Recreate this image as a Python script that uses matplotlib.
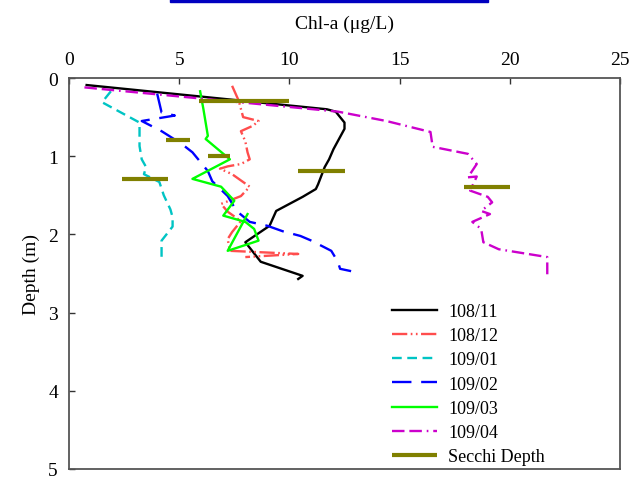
import matplotlib
matplotlib.use("Agg")
import matplotlib.pyplot as plt
from matplotlib.patches import Rectangle

plt.rcParams['font.family'] = ['Liberation Serif', 'DejaVu Serif']
plt.rcParams['lines.scale_dashes'] = False

# Chl-a profiles (x = Chl-a ug/L, d = depth m)
x_10811 = [0.8, 11.7, 12.1, 12.5, 12.5, 12.0, 11.8, 11.6, 11.3, 11.2, 10.6, 9.4, 9.1, 8.0, 8.7, 10.6, 10.4]
d_10811 = [0.09, 0.40, 0.43, 0.57, 0.65, 0.91, 1.04, 1.14, 1.36, 1.42, 1.52, 1.70, 1.89, 2.10, 2.35, 2.53, 2.57]

x_10812 = [7.4, 7.7, 7.9, 8.6, 8.35, 7.8, 8.0, 8.1, 8.2, 7.8, 7.2, 6.85, 7.4, 8.2, 7.8, 6.9, 7.2, 7.8, 7.4, 7.2, 7.3, 10.4, 8.0]
d_10812 = [0.10, 0.29, 0.50, 0.55, 0.61, 0.68, 0.81, 0.95, 1.04, 1.10, 1.13, 1.16, 1.23, 1.39, 1.51, 1.61, 1.71, 1.83, 1.97, 2.06, 2.21, 2.25, 2.29]

x_10901 = [1.9, 1.5, 3.2, 3.2, 3.3, 3.5, 3.4, 4.1, 4.3, 4.6, 4.7, 4.7, 4.2, 4.2]
d_10901 = [0.17, 0.31, 0.57, 0.87, 1.04, 1.14, 1.23, 1.33, 1.50, 1.68, 1.78, 1.90, 2.08, 2.29]

x_10902 = [4.0, 4.2, 4.8, 3.3, 4.2, 5.1, 5.6, 6.3, 6.5, 7.2, 7.6, 8.2, 9.0, 9.7, 10.5, 11.0, 11.9, 12.2, 12.3, 12.8]
d_10902 = [0.20, 0.44, 0.48, 0.55, 0.68, 0.84, 0.95, 1.19, 1.32, 1.51, 1.70, 1.84, 1.89, 1.96, 2.02, 2.08, 2.21, 2.35, 2.44, 2.47]

x_10903 = [5.95, 6.1, 6.3, 6.2, 7.3, 5.6, 6.9, 7.5, 7.0, 8.0, 8.4, 8.6, 7.2, 8.1]
d_10903 = [0.17, 0.40, 0.74, 0.78, 1.04, 1.29, 1.39, 1.57, 1.76, 1.84, 1.93, 2.08, 2.21, 1.74]

x_10904 = [0.7, 12.2, 14.4, 16.4, 16.5, 18.1, 18.5, 18.1, 18.5, 18.2, 19.0, 19.2, 18.7, 19.1, 18.3, 18.7, 18.8, 19.5, 21.7, 21.7]
d_10904 = [0.12, 0.43, 0.55, 0.69, 0.88, 0.97, 1.10, 1.27, 1.26, 1.44, 1.52, 1.59, 1.70, 1.74, 1.84, 1.93, 2.10, 2.19, 2.29, 2.51]

# Secchi depth bars
secchi_lo = [5.9, 4.4, 6.3, 2.4, 10.4, 17.9]
secchi_hi = [10.0, 5.5, 7.3, 4.5, 12.5, 20.0]
secchi_d = [0.29, 0.79, 1.00, 1.29, 1.19, 1.39]

fig = plt.figure(figsize=(6.3, 4.81), dpi=100)
ax = fig.add_axes([69/630, 1-470/481, (620-69)/630, (470-79)/481])

ax.plot(x_10811, d_10811, '-', color='black', lw=1.7, label='108/11')
ax.plot(x_10812, d_10812, color='#ff4d4d', lw=1.7, dashes=(11, 2.5, 1.2, 2.5, 1.2, 2.5), label='108/12')
ax.plot(x_10901, d_10901, color='#00c4c4', lw=1.7, dashes=(7, 4), label='109/01')
ax.plot(x_10902, d_10902, color='#0000ff', lw=1.7, dashes=(14, 7), label='109/02')
ax.plot(x_10903, d_10903, '-', color='#00ff00', lw=1.7, label='109/03')
ax.plot(x_10904, d_10904, color='#cc00cc', lw=1.7, dashes=(9, 3.5, 9, 3.5, 1.2, 3.5), label='109/04')
ax.hlines(secchi_d, secchi_lo, secchi_hi, color='#808000', lw=3, label='Secchi Depth')

ax.set_xlim(0, 25)
ax.set_ylim(5, 0)
ax.set_xticks([0, 5, 10, 15, 20, 25])
ax.set_yticks([0, 1, 2, 3, 4, 5])
ax.xaxis.tick_top()
ax.xaxis.set_label_position('top')
ax.tick_params(axis='both', direction='in', length=4, width=1, labelsize=14, color='#333333')
ax.tick_params(axis='x', pad=7)
ax.tick_params(axis='y', pad=8)
for s in ax.spines.values():
    s.set_color('#555555')
    s.set_linewidth(1.3)

ax.set_xlabel(u'Chl-a (\u03bcg/L)', fontsize=14, labelpad=17)
ax.set_ylabel('Depth (m)', fontsize=14, labelpad=6)

ax.legend(loc='upper left', bbox_to_anchor=(392/630, 1-304/481), bbox_transform=fig.transFigure,
          frameon=False, fontsize=13, handlelength=2.5, handletextpad=0.6,
          labelspacing=0.40, borderpad=0, borderaxespad=0)

# blue bar at the very top
fig.patches.append(Rectangle((170/630, 1-3/481), 318/630, 3/481, transform=fig.transFigure,
                             color='#0000c0', zorder=5))

plt.savefig('out.png', dpi=100)
